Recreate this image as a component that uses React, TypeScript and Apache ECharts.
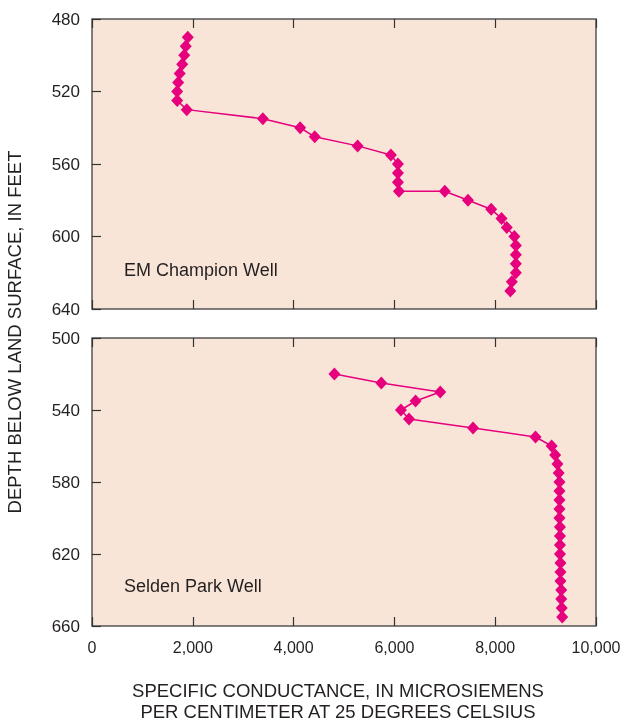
import React, { useEffect, useRef } from "react";
import * as echarts from "echarts";

const xTicks = [0, 2000, 4000, 6000, 8000, 10000];
const topDepthTicks = [480, 520, 560, 600, 640];
const bottomDepthTicks = [500, 540, 580, 620, 660];

// EM Champion Well: [conductance, depth]
const championConductance = [
  1900, 1860, 1830, 1790, 1740, 1710, 1690, 1690, 1880, 3390, 4130, 4420, 5270, 5930,
  6070, 6070, 6070, 6090, 7000, 7460, 7920, 8125, 8230, 8380, 8410, 8410, 8410, 8410,
  8330, 8300,
];
const championDepth = [
  490, 495, 500, 505, 510, 515, 520, 525, 530, 535, 540, 545, 550, 555,
  560, 565, 570, 575, 575, 580, 585, 590, 595, 600, 605, 610, 615, 620,
  625, 630,
];

// Selden Park Well
const seldenConductance = [
  4810, 5740, 6910, 6420, 6130, 6290, 7560, 8800, 9120, 9190, 9235, 9260, 9275, 9275,
  9275, 9275, 9275, 9285, 9285, 9285, 9285, 9295, 9295, 9295, 9310, 9310, 9320, 9330,
];
const seldenDepth = [
  520, 525, 530, 535, 540, 545, 550, 555, 560, 565, 570, 575, 580, 585,
  590, 595, 600, 605, 610, 615, 620, 625, 630, 635, 640, 645, 650, 655,
];

const FONT = "Liberation Sans, Arial, Helvetica, sans-serif";
const TEXT = "#231F20";
const MARK = "#E6007E";

export default function App() {
  const ref = useRef<HTMLDivElement>(null);
  useEffect(() => {
    if (!ref.current) return;
    const chart = echarts.init(ref.current, null, { renderer: "svg" });
    const pair = (xs: number[], ys: number[]) => xs.map((x, i) => [x, ys[i]]);

    const xAxisBase = (gridIndex: number, position: "top" | "bottom", showLabel: boolean) => ({
      type: "value",
      gridIndex,
      position,
      min: xTicks[0],
      max: xTicks[xTicks.length - 1],
      interval: 2000,
      axisLine: { show: false },
      axisTick: { show: true, inside: true, length: 9, lineStyle: { color: "#333", width: 1.2 } },
      splitLine: { show: false },
      axisLabel: {
        show: showLabel,
        margin: 13,
        fontFamily: FONT,
        fontSize: 16,
        color: TEXT,
        formatter: (v: number) => v.toLocaleString("en-US"),
      },
    });

    const yAxisBase = (gridIndex: number, ticks: number[]) => ({
      type: "value",
      gridIndex,
      inverse: true,
      min: ticks[0],
      max: ticks[ticks.length - 1],
      axisLine: { show: false },
      axisTick: {
        show: true,
        inside: true,
        length: 9,
        customValues: ticks,
        lineStyle: { color: "#333", width: 1.2 },
      },
      splitLine: { show: false },
      axisLabel: {
        customValues: ticks,
        margin: 12,
        fontFamily: FONT,
        fontSize: 17,
        color: TEXT,
      },
    });

    const seriesBase = {
      type: "line",
      symbol: "diamond",
      symbolSize: [12, 13],
      lineStyle: { color: MARK, width: 1.5 },
      itemStyle: { color: MARK },
    };

    const gridBase = {
      left: 92,
      right: 25,
      show: true,
      containLabel: false,
      outerBoundsMode: "none",
      backgroundColor: "#F8E5D7",
      borderColor: "#555",
      borderWidth: 1.5,
    };

    const title = (text: string, x: number, y: number, rotation = 0) => ({
      type: "text",
      x,
      y,
      rotation,
      style: {
        text,
        fontFamily: FONT,
        fontSize: 18.5,
        fill: TEXT,
        align: "center",
        verticalAlign: "middle",
      },
    });

    chart.setOption({
      animation: false,
      grid: [
        { ...gridBase, top: 19, height: 290 },
        { ...gridBase, top: 338, height: 288 },
      ],
      xAxis: [
        xAxisBase(0, "bottom", false),
        xAxisBase(0, "top", false),
        xAxisBase(1, "bottom", true),
        xAxisBase(1, "top", false),
      ],
      yAxis: [yAxisBase(0, topDepthTicks), yAxisBase(1, bottomDepthTicks)],
      series: [
        {
          ...seriesBase,
          name: "EM Champion Well",
          xAxisIndex: 0,
          yAxisIndex: 0,
          data: pair(championConductance, championDepth),
        },
        {
          ...seriesBase,
          name: "Selden Park Well",
          xAxisIndex: 2,
          yAxisIndex: 1,
          data: pair(seldenConductance, seldenDepth),
        },
      ],
      graphic: [
        {
          type: "text",
          left: 124,
          top: 261,
          style: { text: "EM Champion Well", fontFamily: FONT, fontSize: 18, fill: TEXT },
        },
        {
          type: "text",
          left: 124,
          top: 577,
          style: { text: "Selden Park Well", fontFamily: FONT, fontSize: 18, fill: TEXT },
        },
        title("DEPTH BELOW LAND SURFACE, IN FEET", 14, 332, Math.PI / 2),
        title("SPECIFIC CONDUCTANCE, IN MICROSIEMENS", 338, 690),
        title("PER CENTIMETER AT 25 DEGREES CELSIUS", 338, 711),
      ],
    });
    return () => chart.dispose();
  }, []);
  return (
    <div
      ref={ref}
      style={{ position: "fixed", left: 0, top: 0, width: 621, height: 725 }}
    />
  );
}
